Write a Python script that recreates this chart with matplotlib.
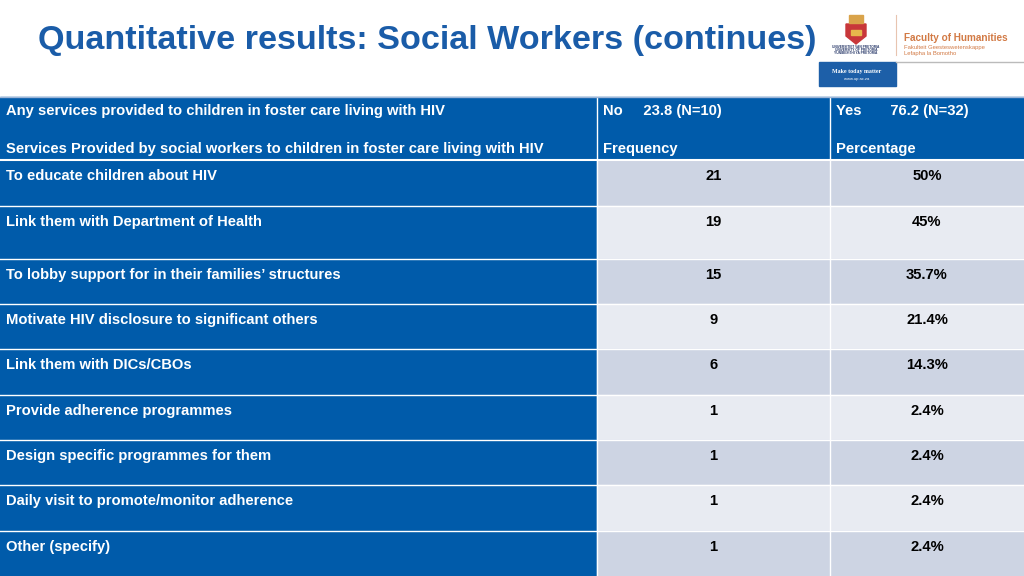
import matplotlib
matplotlib.use("Agg")
import matplotlib.pyplot as plt
from matplotlib.patches import Rectangle, Polygon

plt.rcParams['font.family'] = ['Liberation Sans', 'DejaVu Sans']

title = "Quantitative results: Social Workers (continues)"
header_top = ["Any services provided to children in foster care living with HIV",
              "No     23.8 (N=10)", "Yes       76.2 (N=32)"]
header_bottom = ["Services Provided by social workers to children in foster care living with HIV",
                 "Frequency", "Percentage"]
services = ["To educate children about HIV",
            "Link them with Department of Health",
            "To lobby support for in their families\u2019 structures",
            "Motivate HIV disclosure to significant others",
            "Link them with DICs/CBOs",
            "Provide adherence programmes",
            "Design specific programmes for them",
            "Daily visit to promote/monitor adherence",
            "Other (specify)"]
frequency = [21, 19, 15, 9, 6, 1, 1, 1, 1]
percentage = ["50%", "45%", "35.7%", "21.4%", "14.3%", "2.4%", "2.4%", "2.4%", "2.4%"]

blue = "#005BAA"
dark_row = "#CDD4E3"
light_row = "#E8EBF2"

fig = plt.figure(figsize=(10.24, 5.76), dpi=100)
ax = fig.add_axes([0, 0, 1, 1])
ax.set_xlim(0, 1024)
ax.set_ylim(576, 0)
ax.axis("off")

# title
ax.text(38, 41, title, fontsize=24.6, fontweight="bold", color="#1A5CA8",
        va="center", ha="left")

# logo block (rough)
ax.add_patch(Polygon([[846, 24], [866, 24], [866, 36], [856, 44], [846, 36]],
                     closed=True, color="#C8373A"))
ax.add_patch(Rectangle((849, 15), 14, 8, color="#D9A34A"))
ax.add_patch(Rectangle((851, 30), 10, 5, color="#E7B84C"))
for yy, t in zip([47, 50, 53], ["UNIVERSITEIT VAN PRETORIA", "UNIVERSITY OF PRETORIA",
                                "YUNIBESITHI YA PRETORIA"]):
    ax.text(856, yy, t, fontsize=2.3, color="#2A3A6A", ha="center", va="center",
            fontweight="bold")
ax.plot([896, 896], [15, 55], color="#E8C4B0", lw=0.8)
ax.text(904, 38, "Faculty of Humanities", fontsize=7.2, color="#D27A45",
        ha="left", va="center", fontweight="bold")
ax.text(904, 48, "Fakulteit Geesteswetenskappe", fontsize=4.2, color="#D27A45",
        ha="left", va="center")
ax.text(904, 54, "Lefapha la Bomotho", fontsize=4.2, color="#D27A45",
        ha="left", va="center")
ax.plot([896, 1024], [61.5, 61.5], color="#BBBBBB", lw=1)
ax.add_patch(Rectangle((819, 62), 77, 24, color="#1D5FA8"))
ax.text(857, 71, "Make today matter", fontsize=4.3, color="white", ha="center",
        va="center", fontweight="bold", family="Liberation Serif")
ax.text(857, 79, "www.up.ac.za", fontsize=3, color="white", ha="center", va="center")

# table geometry
col_x = [0, 597, 830, 1024]
row_y = [97, 160, 206, 259, 304, 349, 395, 440, 485, 531, 576]
fs = 10.6

# header
ax.add_patch(Rectangle((0, row_y[0]), 1024, row_y[1] - row_y[0], color=blue))
for i in range(3):
    ax.text(col_x[i] + 6, 111.5, header_top[i], fontsize=fs, fontweight="bold",
            color="white", va="center", ha="left")
    ax.text(col_x[i] + 6, 149.5, header_bottom[i], fontsize=fs, fontweight="bold",
            color="white", va="center", ha="left")

# body rows
for r, (svc, fq, pc) in enumerate(zip(services, frequency, percentage)):
    y0 = row_y[r + 1]
    h = row_y[r + 2] - y0
    bg = dark_row if r % 2 == 0 else light_row
    ax.add_patch(Rectangle((col_x[0], y0), col_x[1] - col_x[0], h, color=blue))
    ax.add_patch(Rectangle((col_x[1], y0), col_x[3] - col_x[1], h, color=bg))
    ty = y0 + 16
    ax.text(col_x[0] + 6, ty, svc, fontsize=fs, fontweight="bold", color="white",
            va="center", ha="left")
    ax.text((col_x[1] + col_x[2]) / 2, ty, str(fq), fontsize=fs, fontweight="bold",
            color="black", va="center", ha="center")
    ax.text((col_x[2] + col_x[3]) / 2, ty, pc, fontsize=fs, fontweight="bold",
            color="black", va="center", ha="center")

# white grid lines
for y in row_y[1:-1]:
    ax.plot([0, 1024], [y, y], color="white", lw=1.5 if y == row_y[1] else 1)
for x in col_x[1:-1]:
    ax.plot([x, x], [row_y[0], 576], color="white", lw=1)
ax.plot([0, 1024], [row_y[0], row_y[0]], color="#9EB6D8", lw=1)

fig.savefig("out.png", dpi=100)
